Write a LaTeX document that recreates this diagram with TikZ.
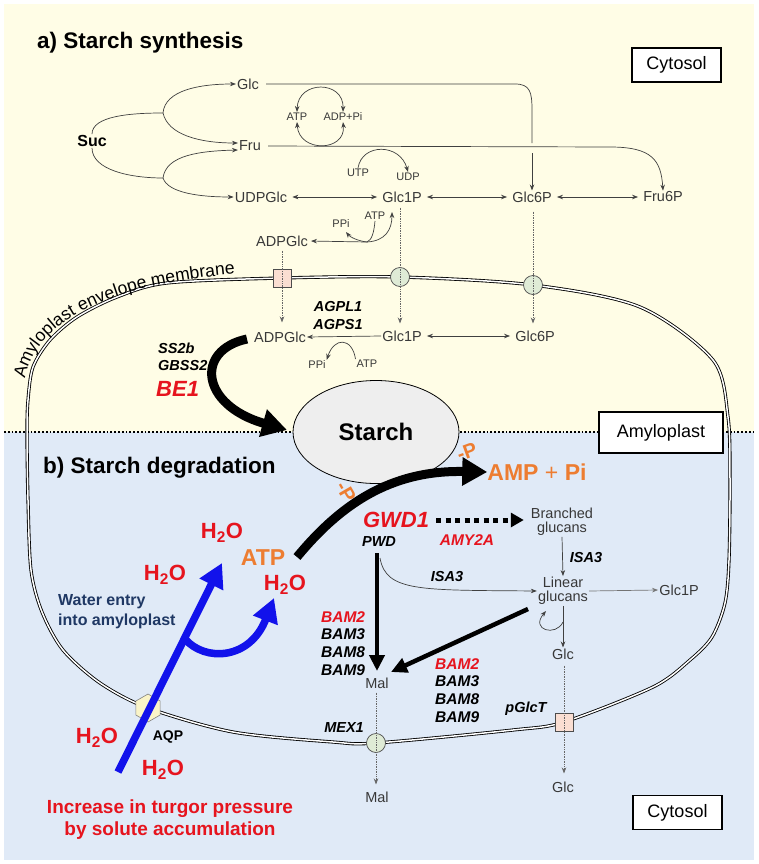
\documentclass[tikz,border=0pt]{standalone}
\usepackage{fontspec}
\setmainfont{Liberation Sans}
\usetikzlibrary{arrows.meta,shapes.geometric,decorations.text}
\definecolor{myred}{RGB}{230,20,30}
\definecolor{myorange}{RGB}{237,125,49}
\definecolor{navy}{RGB}{31,56,100}
\definecolor{myblue}{RGB}{18,18,235}
\definecolor{bgyel}{RGB}{255,253,230}
\definecolor{bgblu}{RGB}{224,234,247}
\definecolor{starchgray}{RGB}{238,238,238}
\definecolor{trgreen}{RGB}{223,235,214}
\definecolor{trpink}{RGB}{250,222,210}
\definecolor{trhexc}{RGB}{250,244,200}
\begin{document}
\begin{tikzpicture}[x=1pt,y=-1pt,
  met/.style={font=\fontsize{14.5}{14}\selectfont, text=black!78, inner sep=1pt},
  sm/.style={font=\fontsize{11}{12}\selectfont, text=black!78, inner sep=1pt},
  enz/.style={font=\bfseries\itshape\fontsize{14.5}{16}\selectfont, inner sep=1pt},
  bam/.style={font=\bfseries\itshape\fontsize{15.5}{16}\selectfont, inner sep=0pt, anchor=west},
  bigr/.style={font=\bfseries\itshape\fontsize{22}{24}\selectfont, text=myred, inner sep=0pt},
  head/.style={font=\bfseries\fontsize{22.5}{24}\selectfont, inner sep=0pt, anchor=west},
  wat/.style={font=\bfseries\fontsize{22}{24}\selectfont, text=myred, inner sep=0pt},
  orng/.style={font=\bfseries\fontsize{23}{24}\selectfont, text=myorange, inner sep=0pt},
  pl/.style={font=\bfseries\fontsize{20}{20}\selectfont, text=myorange, inner sep=0pt},
  box/.style={draw=black, line width=1.3pt, fill=white, minimum width=89pt, minimum height=34pt, inner sep=0pt, font=\fontsize{18}{18}\selectfont},
  thinln/.style={draw=black!75, line width=0.7pt},
  thinarr/.style={thinln, -{Stealth[length=6pt,width=4.5pt]}},
  biarr/.style={thinln, {Stealth[length=6pt,width=4.5pt]}-{Stealth[length=6pt,width=4.5pt]}},
  dotarr/.style={draw=black!60, line width=0.7pt, densely dotted, -{Stealth[length=6pt,width=4.5pt]}},
  trsq/.style={draw=black!70, line width=0.7pt, fill=trpink, minimum size=18pt, inner sep=0pt},
  trci/.style={circle, draw=black!70, line width=0.7pt, fill=trgreen, minimum size=19pt, inner sep=0pt},
  trhex/.style={regular polygon, regular polygon sides=6, shape border rotate=90, draw=black!50, line width=0.6pt, fill=trhexc, minimum size=28pt, inner sep=0pt},
  membrane/.style={draw=black, line width=0.85pt, double=white, double distance=1.5pt},
  divline/.style={draw=black, line width=1.8pt, dash pattern=on 1.8pt off 2pt},
  fatarr/.style={draw=black, line width=9pt, -{Triangle[length=25pt,width=27pt]}},
  medarr/.style={draw=black, line width=4.5pt, -{Triangle[length=16pt,width=15pt]}},
  bluearr/.style={draw=myblue, line width=7.5pt, -{Triangle[length=24pt,width=25pt]}},
  dotfat/.style={draw=black, line width=5pt, dash pattern=on 5pt off 4.5pt, -{Triangle[length=13pt,width=14pt]}},
  starchsty/.style={ellipse, draw=black, line width=0.8pt, fill=starchgray, minimum width=166pt, minimum height=103pt, inner sep=0pt, font=\bfseries\fontsize{24}{24}\selectfont}
]
\useasboundingbox (0,0) rectangle (758,864);
\fill[white] (0,0) rectangle (758,864);
\fill[bgyel] (4,4) rectangle (754,432);
\fill[bgblu] (4,432) rectangle (754,860);
\draw[divline] (4,432) -- (754,432);

% membrane
\draw[membrane] plot[smooth cycle, tension=0.5] coordinates {
 (27,433) (28,400) (33,367) (50,340) (77,317) (117,297) (167,283) (282,278)
 (400,277) (533,285) (640,307) (713,360) (728,417) (730,480) (729,560)
 (725,603) (712,637) (690,660) (653,687) (564,722) (513,730) (376,743)
 (333,742) (233,732) (148,708) (100,683) (63,650) (42,612) (31,570) (28,500)};
\path[decorate, decoration={text along path, text align=left,
  text={|\fontsize{17.5}{17.5}\selectfont|Amyloplast envelope membrane}}]
  (25,379) .. controls (36,320) and (112,282) .. (250,273);

% transporters
\node[trsq] (tsq1) at (282,278) {};
\node[trci] (tci1) at (400,277) {};
\node[trci] (tci2) at (533,285) {};
\node[trhex] (aqp) at (148,708) {};
\node[trci] (tci3) at (376,743) {};
\node[trsq] (tsq2) at (564,722) {};

% ---------- a) synthesis ----------
\node[head] (ha) at (37,43) {a) Starch synthesis};
\node[box] (cyt1) at (676.5,65) {Cytosol};
\node[font=\bfseries\fontsize{16}{16}\selectfont, inner sep=1pt] (suc) at (92,141) {Suc};
\node[met] (glc) at (248,84) {Glc};
\node[met] (fru) at (250,146) {Fru};
\node[met] (udpglc) at (261,197) {UDPGlc};
\node[met] (g1pc) at (402,197) {Glc1P};
\node[met] (g6pc) at (532,197) {Glc6P};
\node[met] (f6p) at (663,197) {Fru6P};
\node[sm] (atp1) at (297,117) {ATP};
\node[sm] (adp) at (343,117) {ADP+Pi};
\node[sm] (utp) at (358,173) {UTP};
\node[sm] (udp) at (408,177) {UDP};
\node[met] (adpglcc) at (282,241) {ADPGlc};
\node[sm] (ppi1) at (341,224) {PPi};
\node[sm] (atp2) at (375,216) {ATP};

\node[met] (adpglcp) at (280,337) {ADPGlc};
\node[met] (g1pp) at (402,336) {Glc1P};
\node[met] (g6pp) at (535,336) {Glc6P};
\node[enz] (agpl) at (338,307) {AGPL1};
\node[enz] (agps) at (338,325) {AGPS1};
\node[sm] (ppi2) at (317,365) {PPi};
\node[sm] (atp3) at (367,364) {ATP};
\node[enz, anchor=west] (ss2b) at (157,348) {SS2b};
\node[enz, anchor=west] (gbss) at (157,366) {GBSS2};
\node[bigr, anchor=west] (be1) at (156,389) {BE1};

\node[starchsty] (starch) at (376,432) {Starch};
\node[box, minimum width=124pt, minimum height=41pt] (amyl) at (661,432.5) {Amyloplast};

% synthesis connectors
\coordinate (sb1) at (163,113);
\coordinate (sb2) at (163,178);
\draw[thinln] (suc.north) .. controls (92,116) and (130,113) .. (sb1);
\draw[thinarr] (sb1) .. controls (165,90) and (200,84) .. (glc.west);
\draw[thinarr] (sb1) .. controls (168,135) and (200,143) .. ([yshift=3pt]fru.west);
\draw[thinln] (suc.south) .. controls (92,170) and (130,178) .. (sb2);
\draw[thinarr] (sb2) .. controls (166,155) and (200,151) .. ([yshift=-4pt]fru.west);
\draw[thinarr] (sb2) .. controls (168,193) and (200,197) .. (udpglc.west);

\coordinate (gk1) at (532,143);
\coordinate (gk2) at (532,153);
\draw[thinln, shorten <=6pt] (glc.east) -- (515,84) .. controls (530,84) and (532,92) .. (532,110) -- (gk1);
\draw[thinarr] (gk2) -- (g6pc.north);
\draw[thinarr, shorten <=6pt] (fru.east) -- (610,147) .. controls (652,147) and (661,160) .. (f6p.north);
\draw[biarr] (atp1.north) .. controls (298,80) and (344,80) .. (adp.north);
\draw[biarr] (atp1.south) .. controls (299,153) and (346,152) .. (adp.south);
\draw[thinarr] (utp.north) .. controls (362,143) and (400,143) .. (udp.north);

\draw[biarr, shorten <=4pt, shorten >=4pt] (udpglc.east) -- (g1pc.west);
\draw[biarr, shorten <=4pt, shorten >=4pt] (g1pc.east) -- (g6pc.west);
\draw[biarr, shorten <=4pt, shorten >=4pt] (g6pc.east) -- (f6p.west);

\coordinate (br1) at (367,242);
\coordinate (g1ptip) at (392,212);
\coordinate (ppitip) at (346,232);
\draw[thinarr, shorten >=2pt] (br1) -- (adpglcc.east);
\draw[thinarr] (br1) .. controls (385,241) and (392,230) .. (g1ptip);
\draw[thinln] (atp2.south) .. controls (374,232) and (372,240) .. (br1);
\draw[thinarr] (br1) .. controls (358,241) and (350,237) .. (ppitip);

\draw[dotarr, shorten <=3pt, shorten >=8pt] (tsq1 |- adpglcc.south) -- (tsq1 |- adpglcp.north);
\draw[dotarr, shorten <=4pt, shorten >=6pt] (tci1 |- g1pc.south) -- (tci1 |- g1pp.north);
\draw[dotarr, shorten <=8pt, shorten >=6pt] (tci2 |- g6pc.south) -- (tci2 |- g6pp.north);

\draw[thinarr] (g1pp.west) -- (adpglcp.east);
\draw[biarr, shorten <=4pt, shorten >=4pt] (g1pp.east) -- (g6pp.west);
\draw[thinarr] (atp3.north west) .. controls (352,337) and (334,337) .. (ppi2.north east);

\coordinate (be1s) at (247,339);
\coordinate (be1e) at (287,430);
\draw[fatarr] (be1s) .. controls (195,350) and (200,405) .. (be1e);

% ---------- b) degradation ----------
\node[head] (hb) at (43,468) {b) Starch degradation};
\node[pl, rotate=20] (p1) at (467,452) {-P};
\node[pl, rotate=-60] (p2) at (346,492) {-P};
\node[orng] (amp) at (537,472) {AMP \textmd{+} Pi};
\node[bigr] (gwd) at (396,520) {GWD1};
\node[enz] (pwd) at (379,542) {PWD};
\node[font=\bfseries\itshape\fontsize{15.5}{16}\selectfont, text=myred, inner sep=1pt] (amy2a) at (467,540) {AMY2A};
\node[met, align=center, font=\fontsize{14.5}{14}\selectfont] (branched) at (562,522) {Branched\\glucans};
\node[met, align=center, font=\fontsize{14.5}{14}\selectfont] (linear) at (563,591) {Linear\\glucans};
\node[enz] (isa3a) at (586,558) {ISA3};
\node[enz] (isa3b) at (447,577) {ISA3};
\node[met] (g1pb) at (679,590) {Glc1P};
\node[met] (glcp) at (563,654) {Glc};
\node[met] (malp) at (377,683) {Mal};
\node[met] (malc) at (377,797) {Mal};
\node[met] (glcc) at (563,787) {Glc};
\node[enz] (mex1) at (344,728) {MEX1};
\node[enz] (pglct) at (526,709) {pGlcT};
\node[box] (cyt2) at (677.5,812.5) {Cytosol};
\foreach \t/\c [count=\i] in {BAM2/myred,BAM3/black,BAM8/black,BAM9/black}{
  \node[bam, text=\c] (bamL\i) at (321,599.3+17.67*\i) {\t};
  \node[bam, text=\c] (bamR\i) at (435,646.3+17.67*\i) {\t};
}

\node[wat] (w1) at (222,533) {H\textsubscript{2}O};
\node[wat] (w2) at (165,575) {H\textsubscript{2}O};
\node[wat] (w3) at (285,585) {H\textsubscript{2}O};
\node[wat] (w4) at (97,738) {H\textsubscript{2}O};
\node[wat] (w5) at (163,770) {H\textsubscript{2}O};
\node[orng] (atpo) at (263,558) {ATP};
\node[font=\bfseries\fontsize{16}{16}\selectfont, text=navy, inner sep=0pt, anchor=west] (we1) at (58,602) {Water entry};
\node[font=\bfseries\fontsize{16}{16}\selectfont, text=navy, inner sep=0pt, anchor=west] (we2) at (58,621) {into amyloplast};
\node[font=\bfseries\fontsize{14}{14}\selectfont, inner sep=0pt] (aqpl) at (168,737) {AQP};
\node[font=\bfseries\fontsize{19}{19}\selectfont, text=myred, inner sep=0pt] (inc1) at (170,809) {Increase in turgor pressure};
\node[font=\bfseries\fontsize{19}{19}\selectfont, text=myred, inner sep=0pt] (inc2) at (170,831) {by solute accumulation};

% degradation connectors
\coordinate (atps) at (297,557);
\draw[fatarr] (atps) .. controls (340,505) and (390,470) .. (amp.west);
\draw[dotfat, shorten <=7pt, shorten >=6pt] (gwd.east) -- (gwd.east -| branched.west);
\draw[thinarr] (branched.south) -- (linear.north);
\coordinate (pwdc) at (380,558);
\draw[thinarr] (pwdc) .. controls (386,592) and (420,590) .. (linear.west);
\draw[thinarr, draw=black!55] (linear.east) -- (g1pb.west);
\draw[thinarr] (linear.south) -- (glcp.north);
\coordinate (lp1) at (563,622);
\coordinate (lp2) at (546,611);
\draw[thinarr] (lp1) .. controls (556,637) and (530,630) .. (lp2);
\coordinate (pw1) at (377,553);
\coordinate (pw2) at (377,671);
\draw[medarr] (pw1) -- (pw2);
\coordinate (lm1) at (528,609);
\coordinate (lm2) at (391,672);
\draw[medarr] (lm1) -- (lm2);
\draw[dotarr, shorten <=3pt, shorten >=6pt] (tci3 |- malp.south) -- (tci3 |- malc.north);
\draw[dotarr, shorten <=5pt, shorten >=7pt] (tsq2 |- glcp.south) -- (tsq2 |- glcc.north);

\coordinate (bl0) at (118,772);
\coordinate (bl1) at (222,563);
\coordinate (bl2) at (185,639);
\coordinate (bl3) at (274,598);
\draw[bluearr] (bl0) -- (bl1);
\draw[bluearr] (bl2) .. controls (205,662) and (250,660) .. (bl3);
\end{tikzpicture}
\end{document}
